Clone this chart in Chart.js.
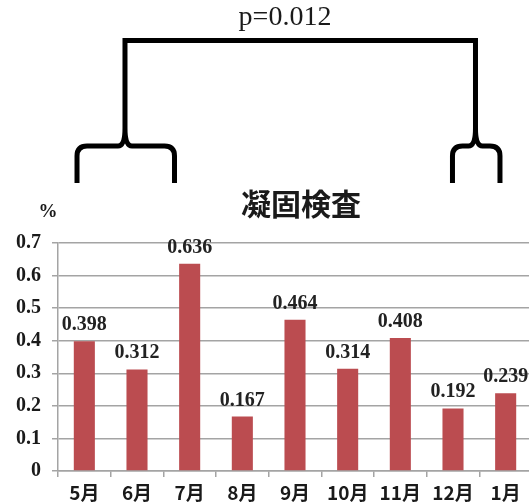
<!DOCTYPE html>
<html>
<head>
<meta charset="utf-8">
<script src="https://cdn.jsdelivr.net/npm/chart.js@4.4.1/dist/chart.umd.min.js"></script>
<style>
  html, body { margin: 0; padding: 0; background: #fff; overflow: hidden; }
  #wrap { width: 535px; height: 504px; }
</style>
</head>
<body>
<div id="wrap"><canvas id="myChart" width="535" height="504"></canvas></div>
<script>
// monthly values (%)
let months = ["5月", "6月", "7月", "8月", "9月", "10月", "11月", "12月", "1月"];
let values = [0.398, 0.312, 0.636, 0.167, 0.464, 0.314, 0.408, 0.192, 0.239];
let yTicks = [0, 0.1, 0.2, 0.3, 0.4, 0.5, 0.6, 0.7];

let chartTitle = "凝固検査";
let pLabel = "p=0.012";

const numFont = '"Liberation Serif", "Times New Roman", serif';
const jpFont = '"Noto Sans CJK JP", "Noto Sans", sans-serif';
const gridColor = '#a4a4a4';

// value labels above each bar
const barLabels = {
    id: 'barLabels',
    afterDatasetsDraw(chart) {
        const ctx = chart.ctx;
        const meta = chart.getDatasetMeta(0);
        ctx.save();
        ctx.font = 'bold 20px ' + numFont;
        ctx.fillStyle = '#222';
        ctx.textAlign = 'center';
        ctx.textBaseline = 'alphabetic';
        meta.data.forEach((bar, i) => {
            ctx.fillText(values[i].toFixed(3), bar.x, bar.y - 11);
        });
        ctx.restore();
    }
};

// title, unit and the comparison bracket above the plot
const decorations = {
    id: 'decorations',
    afterDraw(chart) {
        const ctx = chart.ctx;
        const area = chart.chartArea;
        const step = (area.right - area.left) / months.length;
        const at = f => area.left + f * step;

        ctx.save();
        ctx.fillStyle = '#1a1a1a';
        ctx.textAlign = 'center';
        ctx.textBaseline = 'middle';

        ctx.font = 'bold 30px ' + jpFont;
        ctx.fillText(chartTitle, 301, 204);

        ctx.font = 'bold 19px ' + numFont;
        ctx.fillText('%', 48, 212);

        ctx.font = '28px ' + numFont;
        ctx.fillText(pLabel, 285, 18);

        // bracket
        ctx.strokeStyle = '#000';
        ctx.lineWidth = 5;
        ctx.lineJoin = 'miter';
        const topY = 40.5, braceY = 146, endY = 183;
        const lx = at(1.272), rx = at(7.927);

        ctx.beginPath();
        ctx.moveTo(lx, 128);
        ctx.lineTo(lx, topY);
        ctx.lineTo(rx, topY);
        ctx.lineTo(rx, 128);
        ctx.stroke();

        function brace(x0, xm, x1) {
            ctx.beginPath();
            ctx.moveTo(x0, endY);
            ctx.lineTo(x0, braceY + 10);
            ctx.quadraticCurveTo(x0, braceY, x0 + 10, braceY);
            ctx.lineTo(xm - 7, braceY);
            ctx.quadraticCurveTo(xm, braceY, xm, braceY - 18);
            ctx.quadraticCurveTo(xm, braceY, xm + 7, braceY);
            ctx.lineTo(x1 - 10, braceY);
            ctx.quadraticCurveTo(x1, braceY, x1, braceY + 10);
            ctx.lineTo(x1, endY);
            ctx.stroke();
        }
        brace(at(0.361), lx, at(2.212));
        brace(at(7.49), rx, at(8.392));
        ctx.restore();
    }
};

window.addEventListener("DOMContentLoaded", () => {
    const ctx = document.getElementById('myChart');

    new Chart(ctx, {
        type: 'bar',
        data: {
            labels: months,
            datasets: [{
                data: values,
                backgroundColor: '#bb4c50',
                borderWidth: 0,
                categoryPercentage: 1,
                barPercentage: 0.4
            }]
        },
        options: {
            responsive: false,
            animation: false,
            devicePixelRatio: 1,
            layout: { padding: { top: 243, right: 3, left: 0, bottom: 0 } },
            plugins: {
                legend: { display: false },
                tooltip: { enabled: false }
            },
            scales: {
                y: {
                    min: 0,
                    max: 0.7,
                    afterBuildTicks: scale => {
                        scale.ticks = yTicks.map(v => ({ value: v }));
                    },
                    afterFit: scale => { scale.width = 58; },
                    ticks: {
                        color: '#1a1a1a',
                        font: { family: numFont, size: 20, weight: 'bold' },
                        padding: 11,
                        callback: v => String(v)
                    },
                    grid: {
                        color: gridColor,
                        lineWidth: 1.5,
                        tickLength: 6
                    },
                    border: { color: gridColor, width: 1.5 }
                },
                x: {
                    afterFit: scale => { scale.height = 33; },
                    ticks: {
                        color: '#1a1a1a',
                        font: { family: jpFont, size: 19, weight: 'bold' },
                        padding: 4,
                        maxRotation: 0
                    },
                    grid: {
                        offset: true,
                        drawOnChartArea: false,
                        color: gridColor,
                        lineWidth: 1.5,
                        tickLength: 6
                    },
                    border: { color: gridColor, width: 1.5 }
                }
            }
        },
        plugins: [barLabels, decorations]
    });
});
</script>
</body>
</html>
